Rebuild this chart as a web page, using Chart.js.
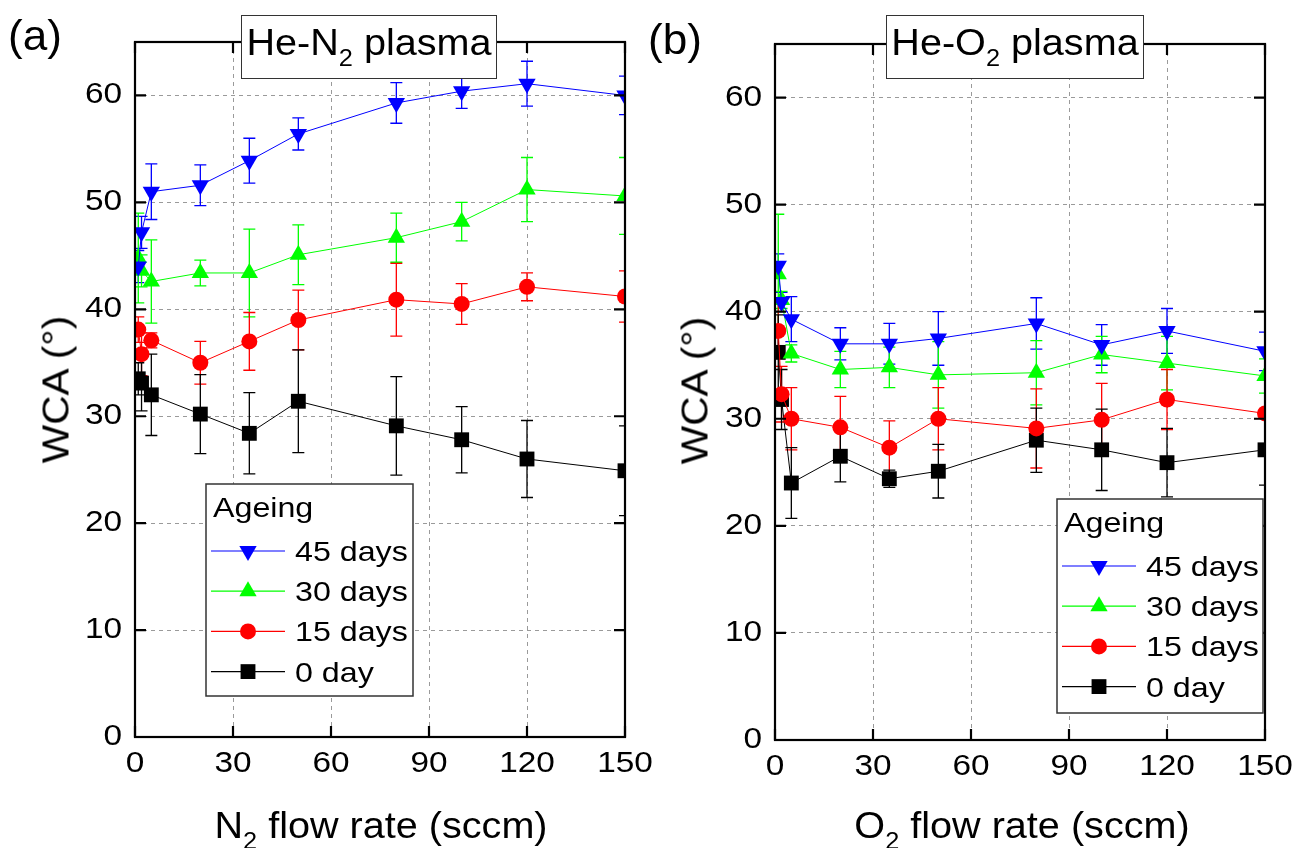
<!DOCTYPE html>
<html>
<head>
<meta charset="utf-8">
<script src="https://cdn.jsdelivr.net/npm/chart.js@4.4.1/dist/chart.umd.min.js"></script>
<style>
  html, body { margin: 0; padding: 0; background: #fff; width: 1294px; height: 848px; overflow: hidden;
    font-family: "Liberation Sans", Arial, sans-serif; color: #000; }
  canvas { position: absolute; top: 0; }
  .txt { position: absolute; white-space: nowrap; line-height: 1; }
  .box { position: absolute; background: #fff; border: 1.5px solid #333; box-sizing: border-box; }
  .sub { font-size: 0.64em; position: relative; top: 0.5em; }
</style>
</head>
<body>
<canvas id="left" width="670" height="848" style="left:0px"></canvas>
<canvas id="right" width="654" height="848" style="left:640px"></canvas>

<div class="txt" style="left:8px; top:15px; font-size:42px; transform:scaleX(1.05); transform-origin:left top;">(a)</div>
<div class="txt" style="left:648px; top:19px; font-size:42px; transform:scaleX(1.05); transform-origin:left top;">(b)</div>

<div class="box" style="left:241px; top:15px; width:256px; height:64px;"></div>
<div class="txt" style="left:241px; width:256px; top:24.5px; font-size:36px; text-align:center; transform:scaleX(1.1);">He-N<span class="sub">2</span> plasma</div>
<div class="box" style="left:886px; top:15px; width:258px; height:64px;"></div>
<div class="txt" style="left:886px; width:258px; top:24.5px; font-size:36px; text-align:center; transform:scaleX(1.1);">He-O<span class="sub">2</span> plasma</div>

<div class="txt" style="left:-44px; top:371px; width:200px; font-size:37px; text-align:center; transform:rotate(-90deg) scaleX(1.1);">WCA (°)</div>
<div class="txt" style="left:595px; top:372px; width:200px; font-size:37px; text-align:center; transform:rotate(-90deg) scaleX(1.1);">WCA (°)</div>

<div class="txt" style="left:131px; width:500px; top:807.5px; font-size:36px; text-align:center; transform:scaleX(1.1);">N<span class="sub">2</span> flow rate (sccm)</div>
<div class="txt" style="left:772px; width:500px; top:807.5px; font-size:36px; text-align:center; transform:scaleX(1.1);">O<span class="sub">2</span> flow rate (sccm)</div>

<script>
// ---------------- data ----------------
const flowRates = [1, 2, 5, 20, 35, 50, 80, 100, 120, 150];
const seriesLabels = ['45 days', '30 days', '15 days', '0 day'];
const legendTitle = 'Ageing';
const xTickValues = [0, 30, 60, 90, 120, 150];
const yTickValues = [0, 10, 20, 30, 40, 50, 60];

// He-N2 plasma
const n2Day45    = [44.0, 47.2, 51.0, 51.6, 53.9, 56.4, 59.3, 60.4, 61.1, 60.0];
const n2Day45Err = [1.5, 1.5, 2.6, 1.9, 2.1, 1.5, 1.9, 1.6, 2.1, 1.8];
const n2Day30    = [44.8, 43.6, 42.6, 43.4, 43.4, 45.1, 46.7, 48.2, 51.2, 50.6];
const n2Day30Err = [4.2, 1.5, 3.9, 1.2, 4.1, 2.8, 2.3, 1.8, 3.0, 3.6];
const n2Day15    = [38.1, 35.8, 37.1, 35.0, 37.0, 39.0, 40.9, 40.5, 42.1, 41.2];
const n2Day15Err = [1.2, 2.0, 0.7, 2.0, 2.7, 2.8, 3.4, 1.9, 1.3, 2.4];
const n2Day0     = [33.5, 33.1, 32.0, 30.2, 28.4, 31.4, 29.1, 27.8, 26.0, 24.9];
const n2Day0Err  = [1.5, 2.6, 3.8, 3.7, 3.8, 4.8, 4.6, 3.1, 3.6, 4.2];

// He-O2 plasma
const o2Day45    = [44.3, 40.9, 39.3, 37.0, 37.0, 37.5, 38.9, 36.9, 38.2, 36.3];
const o2Day45Err = [1.1, 0.9, 2.1, 1.5, 1.9, 2.5, 2.4, 1.9, 2.1, 1.8];
const o2Day30    = [43.5, 41.1, 36.1, 34.6, 34.8, 34.1, 34.3, 36.0, 35.2, 34.0];
const o2Day30Err = [5.6, 0.8, 0.8, 1.7, 1.9, 3.1, 3.0, 1.7, 2.5, 1.6];
const o2Day15    = [38.2, 32.3, 30.0, 29.2, 27.3, 30.0, 29.1, 29.9, 31.8, 30.5];
const o2Day15Err = [2.5, 2.6, 2.9, 2.9, 2.5, 2.9, 3.7, 3.4, 2.8, 3.4];
const o2Day0     = [36.2, 31.8, 24.0, 26.5, 24.4, 25.1, 28.0, 27.1, 25.9, 27.1];
const o2Day0Err  = [3.5, 2.8, 3.3, 2.4, 0.8, 2.5, 3.0, 3.8, 3.2, 3.3];

// ---------------- rendering ----------------
const FONT = '"Liberation Sans", Arial, sans-serif';
const STRETCH = 1.15;

function stretchText(ctx, k) {
  const orig = ctx.fillText;
  ctx.fillText = function (t, x, y, mw) {
    this.save();
    this.translate(x, y);
    this.scale(k, 1);
    if (mw === undefined) orig.call(this, t, 0, 0); else orig.call(this, t, 0, 0, mw / k);
    this.restore();
  };
}

const errorBarPlugin = {
  id: 'errorBars',
  beforeDatasetsDraw(chart) {
    const { ctx, chartArea: a, scales: { x, y } } = chart;
    ctx.save();
    ctx.beginPath();
    ctx.rect(a.left, a.top, a.right - a.left, a.bottom - a.top);
    ctx.clip();
    chart.data.datasets.forEach((ds) => {
      if (!ds.errors) return;
      ctx.strokeStyle = ds.borderColor;
      ctx.lineWidth = 1.3;
      ds.data.forEach((p, j) => {
        const px = x.getPixelForValue(p.x);
        const y1 = y.getPixelForValue(p.y + ds.errors[j]);
        const y2 = y.getPixelForValue(p.y - ds.errors[j]);
        ctx.beginPath();
        ctx.moveTo(px, y1); ctx.lineTo(px, y2);
        ctx.moveTo(px - 6, y1); ctx.lineTo(px + 6, y1);
        ctx.moveTo(px - 6, y2); ctx.lineTo(px + 6, y2);
        ctx.stroke();
      });
    });
    ctx.restore();
  }
};

const framePlugin = {
  id: 'frame',
  afterDatasetsDraw(chart) {
    const { ctx, chartArea: a, scales: { x, y } } = chart;
    const L = 11;
    ctx.save();
    ctx.strokeStyle = '#000';
    ctx.lineWidth = 2.2;
    ctx.beginPath();
    x.ticks.forEach(t => {
      const p = x.getPixelForValue(t.value);
      ctx.moveTo(p, a.bottom); ctx.lineTo(p, a.bottom - L);
      ctx.moveTo(p, a.top); ctx.lineTo(p, a.top + L);
    });
    y.ticks.forEach(t => {
      const p = y.getPixelForValue(t.value);
      ctx.moveTo(a.left, p); ctx.lineTo(a.left + L, p);
      ctx.moveTo(a.right, p); ctx.lineTo(a.right - L, p);
    });
    ctx.stroke();
    ctx.strokeRect(a.left, a.top, a.right - a.left, a.bottom - a.top);
    ctx.restore();
  }
};

const legendBoxPlugin = {
  id: 'legendBox',
  afterDraw(chart, args, opts) {
    const { ctx } = chart;
    const { left, top, width, height } = opts;
    ctx.save();
    ctx.fillStyle = '#fff';
    ctx.fillRect(left, top, width, height);
    ctx.strokeStyle = '#333';
    ctx.lineWidth = 1.5;
    ctx.strokeRect(left, top, width, height);
    ctx.font = '28px ' + FONT;
    ctx.textAlign = 'left';
    ctx.textBaseline = 'alphabetic';
    ctx.fillStyle = '#000';
    ctx.fillText(opts.title, left + 7, top + 33);
    chart.data.datasets.forEach((ds, i) => {
      const cy = top + 67 + i * 40.2;
      ctx.strokeStyle = ds.borderColor;
      ctx.lineWidth = 1.2;
      ctx.beginPath();
      ctx.moveTo(left + 5, cy); ctx.lineTo(left + 79, cy);
      ctx.stroke();
      ctx.fillStyle = ds.backgroundColor;
      Chart.helpers.drawPoint(ctx, { pointStyle: ds.pointStyle, radius: ds.pointRadius, rotation: ds.pointRotation || 0, borderWidth: 0 }, left + 42, cy);
      ctx.fillStyle = '#000';
      ctx.fillText(ds.label, left + 89, cy + 10);
    });
    ctx.restore();
  }
};

function series(label, vals, errs, color, style, radius, rotation) {
  return {
    label,
    data: flowRates.map((xv, j) => ({ x: xv, y: vals[j] })),
    errors: errs,
    borderColor: color,
    backgroundColor: color,
    borderWidth: 1,
    pointStyle: style,
    pointRadius: radius,
    pointHoverRadius: radius,
    pointRotation: rotation,
    pointBorderWidth: 0,
    clip: 0,
    tension: 0
  };
}

function buildSets(d45, e45, d30, e30, d15, e15, d0, e0) {
  return [
    series(seriesLabels[0], d45, e45, '#0000ff', 'triangle', 10, 180),
    series(seriesLabels[1], d30, e30, '#00ff00', 'triangle', 10, 0),
    series(seriesLabels[2], d15, e15, '#ff0000', 'circle', 8, 0),
    series(seriesLabels[3], d0, e0, '#000000', 'rect', 10.5, 0)
  ];
}

function makeChart(id, datasets, geom, legendPos) {
  const canvas = document.getElementById(id);
  const ctx = canvas.getContext('2d');
  stretchText(ctx, STRETCH);
  const tickFont = { size: 29, family: FONT };
  return new Chart(ctx, {
    type: 'line',
    data: { datasets },
    options: {
      responsive: false,
      animation: false,
      devicePixelRatio: 1,
      events: [],
      layout: { padding: { left: 0, top: geom.top, right: geom.right, bottom: 0 } },
      plugins: {
        legend: { display: false },
        tooltip: { enabled: false },
        legendBox: Object.assign({ title: legendTitle }, legendPos)
      },
      scales: {
        x: {
          type: 'linear', min: 0, max: 150,
          afterBuildTicks: s => { s.ticks = xTickValues.map(v => ({ value: v })); },
          afterFit: s => { s.height = geom.xh; s.paddingLeft = 0; s.paddingRight = 0; },
          ticks: { padding: 10, font: tickFont, color: '#000', maxRotation: 0, autoSkip: false },
          grid: { color: '#9a9a9a', lineWidth: 1, drawTicks: false },
          border: { display: false, dash: [4, 4] }
        },
        y: {
          type: 'linear', min: 0, max: 65,
          afterBuildTicks: s => { s.ticks = yTickValues.map(v => ({ value: v })); },
          afterFit: s => { s.width = 135; s.paddingTop = 0; s.paddingBottom = 0; },
          ticks: { padding: 13, font: tickFont, color: '#000', autoSkip: false },
          grid: { color: '#9a9a9a', lineWidth: 1, drawTicks: false },
          border: { display: false, dash: [4, 4] }
        }
      }
    },
    plugins: [errorBarPlugin, framePlugin, legendBoxPlugin]
  });
}

makeChart('left',
  buildSets(n2Day45, n2Day45Err, n2Day30, n2Day30Err, n2Day15, n2Day15Err, n2Day0, n2Day0Err),
  { top: 42, right: 45, xh: 111 },
  { left: 206, top: 484, width: 207, height: 212 });

makeChart('right',
  buildSets(o2Day45, o2Day45Err, o2Day30, o2Day30Err, o2Day15, o2Day15Err, o2Day0, o2Day0Err),
  { top: 44, right: 29, xh: 108 },
  { left: 417, top: 499, width: 206, height: 214 });
</script>
</body>
</html>
